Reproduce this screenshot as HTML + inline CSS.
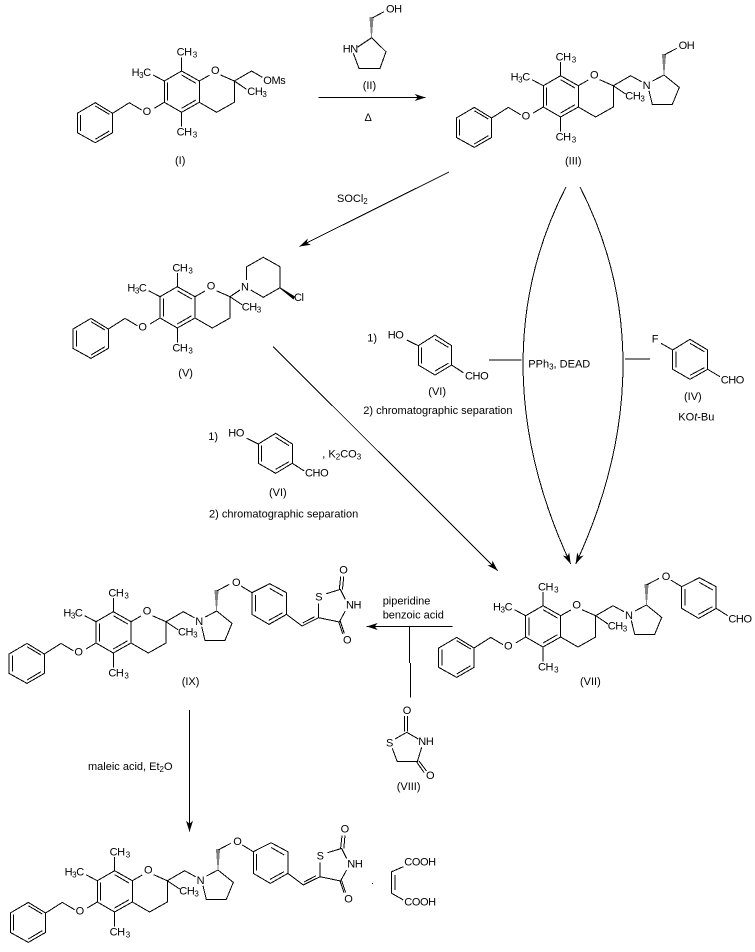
<!DOCTYPE html>
<html><head><meta charset="utf-8"><title>Reaction scheme</title>
<style>
html,body{margin:0;padding:0;background:#fff}
svg{display:block}
text{font-family:"Liberation Sans",Arial,sans-serif;font-size:11px;fill:#000}
.a text,text.a{letter-spacing:-.4px}
.s{font-size:8px}
.b{fill:none;stroke:#000;stroke-width:1;shape-rendering:crispEdges}
</style></head><body>
<svg xmlns="http://www.w3.org/2000/svg" width="755" height="952" viewBox="0 0 755 952">
<defs>
<marker id="ah" viewBox="-12 -5 13 10" refX="0" refY="0" markerWidth="13" markerHeight="10" markerUnits="userSpaceOnUse" orient="auto"><path d="M0 0L-11 -3.5L-8 0L-11 3.5Z" fill="#000"/></marker>
<path id="hash" class="b" d="M85.2 -12.5H86.2M85.2 -14.5H86.2M84.7 -16.5H86.7M84.7 -18.5H86.7M84.7 -20.5H86.7M84.2 -22.5H87.2M84.2 -24.5H87.2M84.2 -26.5H87.2M83.7 -28.5H87.7M83.7 -30.5H87.7"/>
<path id="core" class="b" d="M-122 32.3L-104 21.7L-86.7 32.3V51.7L-104 61.7L-122 51.7ZM-118.7 34V50M-104 25L-90 33.3M-104 58.3L-90 50M-86.7 32.3L-70 21.7L-57.7 29M-45 27.3L-35 21.3M-35 0L-17.7 -10L0 0V21.3L-17.7 31.3L-35 21.3ZM-31.7 1.7V19.7M-17.7 -6L-3.3 2.3M-17.7 27.3L-3.3 19M-17.7 -10V-23.7M-17.7 31.3V45.7M-35 0L-46.3 -6M0 0L10 -5.7M21.3 -6L35 0V21.3L17.3 31.3L0 21.3M35 0L47.3 8.3"/>
<g id="pyr"><path class="b" d="M35 0L52.3 -10L63.3 -4M70.7 5L74 18.7H94L101 1.7L85.7 -10.7L74.3 -4.7M85.7 -30.7L98.3 -37.3"/><use href="#hash"/></g>
<path id="oar" class="b" d="M110 -35.7L121 -29M121 -29L138.7 -38L155.5 -29V-7.3L138 2.7L121 -7.3ZM124.3 -26.7V-10M138.7 -33.3L152 -25.7M137.7 -1.3L151.7 -9"/>
<path id="tzd" class="b" d="M155.5 -7.3L171 4.3L187.7 -4M171.7 1.3L183.7 -5M187.7 -4V-18M195.3 -28L209.3 -32.3L214.3 -22.3M214.3 -10.7L208.3 .3L187.7 -4M208.3 -32.3L209.7 -45M211.5 -32.3L212.7 -45M207.7 .3L211.7 12M209.3 -.3L213.3 11.7"/>
</defs>

<!-- I -->
<g class="a" transform="translate(199.3 81)"><use href="#core"/>
<text x="-22.7" y="-25.3">CH<tspan class="s" dy="2" dx="1">3</tspan></text><text x="-67.7" y="-5">H<tspan class="s" dy="2">3</tspan><tspan dy="-2">C</tspan></text><text x="-22.7" y="54.7">CH<tspan class="s" dy="2" dx="1">3</tspan></text><text x="48" y="14">CH<tspan class="s" dy="2">3</tspan></text><text x="11.7" y="-7">O</text><text x="-56.7" y="34">O</text>
<path class="b" d="M35 0L52.3 -10L63 -3.7"/><text x="64" y="3">OMs</text></g>
<text x="175" y="164">(I)</text>

<!-- II -->
<path class="b" d="M357.3 47.3L371.7 37.7L386 51.7L380 68.3H359L353.3 53.3M371.7 18.3L384 11.7"/>
<g transform="translate(286 48.4)"><use href="#hash"/></g>
<g class="a"><text x="342.7" y="52.7">HN</text><text x="386" y="12.3">OH</text></g>
<text x="362.7" y="89">(II)</text>
<path class="b" d="M318.3 97.5H425.7" marker-end="url(#ah)"/>
<text x="364.5" y="121">Δ</text>

<!-- III -->
<g class="a" transform="translate(578.3 85.7)"><use href="#core"/><use href="#pyr"/>
<text x="-22.7" y="-25.3">CH<tspan class="s" dy="2" dx="1">3</tspan></text><text x="-67.7" y="-5">H<tspan class="s" dy="2">3</tspan><tspan dy="-2">C</tspan></text><text x="-22.7" y="54.7">CH<tspan class="s" dy="2" dx="1">3</tspan></text><text x="47" y="14">CH<tspan class="s" dy="2">3</tspan></text><text x="11.7" y="-7">O</text><text x="-56.7" y="34">O</text>
<text x="64.3" y="3.3">N</text><text x="100.3" y="-36.7">OH</text></g>
<text x="565" y="164.3">(III)</text>

<!-- arrows top -->
<path class="b" d="M449 172L299.5 246.5" marker-end="url(#ah)"/>
<text x="337" y="202">SOCl<tspan class="s" dy="2">2</tspan></text>
<path class="b" d="M566 187C508 300 508 430 570.7 564" marker-end="url(#ah)"/>
<path class="b" d="M580 187C638 300 638 430 575.7 564" marker-end="url(#ah)"/>

<!-- V -->
<g class="a" transform="translate(195 296.7)"><use href="#core"/>
<text x="-22.7" y="-25.3">CH<tspan class="s" dy="2" dx="1">3</tspan></text><text x="-67.7" y="-5">H<tspan class="s" dy="2">3</tspan><tspan dy="-2">C</tspan></text><text x="-22.7" y="54.7">CH<tspan class="s" dy="2" dx="1">3</tspan></text><text x="46.7" y="14">CH<tspan class="s" dy="2">3</tspan></text><text x="11.7" y="-7">O</text><text x="-56.7" y="34">O</text></g>
<path class="b" d="M230 296.7L240 290M246.7 280V266.7L263.3 257.3L280 266.7V287.7L263.3 297.3L250.7 290"/>
<path d="M280 287.2L295 296.5L293.5 299.5L280 288.5Z" fill="#000"/>
<g class="a"><text x="241" y="290.7">N</text><text x="294" y="301">Cl</text></g>
<text x="178.3" y="376.7">(V)</text>

<!-- VI + right side -->
<g class="a"><text x="387.7" y="338.3">HO</text><text x="465" y="379.3">CHO</text><text x="651.7" y="342.7">F</text><text x="720.7" y="383.3">CHO</text><text x="228.3" y="436.7">HO</text><text x="305" y="476.7">CHO</text></g>
<text x="367.3" y="341.7">1)</text>
<path class="b" d="M406.7 340L418.3 345.7L435 335L451.7 345.7V365L435 375L418.3 365V345.7M421.7 347.3V363.3M435 339.3L448.3 347.3M435 371L448.3 363.3M451.7 365L463.3 372.7"/>
<text x="428.3" y="395">(VI)</text>
<text x="363.3" y="414">2) chromatographic separation</text>
<path class="b" d="M489 360H521.7M625 359H650"/>
<text x="528.3" y="367.3">PPh<tspan class="s" dy="2">3</tspan><tspan dy="-2">, DEAD</tspan></text>
<path class="b" d="M661 343.3L672.7 350L690 339.3L707.7 350V369.3L690 379.3L672.7 369.3V350M676 351.7V367.7M690 343.3L704.3 351.7M690 375.3L704.3 367.7M707.7 369.3L720 376.7"/>
<text x="684" y="400">(IV)</text>
<text x="678.3" y="420.7">KO<tspan font-style="italic">t</tspan>-Bu</text>

<!-- VI second -->
<text x="208.3" y="440">1)</text>
<path class="b" d="M246.7 438.3L258.3 444L275.7 433.3L292.3 444V463.3L275.7 473.3L258.3 463.3V444M261.7 445.7V461.7M275.7 437.3L289 445.7M275.7 469.3L289 461.7M292.3 463.3L304.3 471"/>
<text x="322.3" y="457.7">, K<tspan class="s" dy="2">2</tspan><tspan dy="-2">CO</tspan><tspan class="s" dy="2">3</tspan></text>
<text x="269" y="496">(VI)</text>
<text x="209" y="517.7">2) chromatographic separation</text>

<path class="b" d="M273.3 346.7L497.7 570.7" marker-end="url(#ah)"/>

<!-- VII -->
<g class="a" transform="translate(560.7 615.7)"><use href="#core"/><use href="#pyr"/><use href="#oar"/>
<path class="b" d="M155.5 -7.3L167 0"/>
<text x="-22.7" y="-25.3">CH<tspan class="s" dy="2" dx="1">3</tspan></text><text x="-67.7" y="-5">H<tspan class="s" dy="2">3</tspan><tspan dy="-2">C</tspan></text><text x="-22.7" y="54.7">CH<tspan class="s" dy="2" dx="1">3</tspan></text><text x="47" y="14">CH<tspan class="s" dy="2">3</tspan></text><text x="11.7" y="-7">O</text><text x="-56.7" y="34">O</text>
<text x="64.3" y="3.3">N</text><text x="101" y="-35.7">O</text><text x="167.7" y="7">CHO</text></g>
<text x="580" y="685">(VII)</text>

<!-- VII to IX arrow -->
<path class="b" d="M452.7 626.5H366.7" marker-end="url(#ah)"/>
<path class="b" d="M409.5 626.5V663M410.5 663V697.7"/>
<text x="382.7" y="604.7">piperidine</text>
<text x="382.7" y="618.3">benzoic acid</text>

<!-- VIII -->
<path class="b" d="M404.5 716V731.7M407.5 716V731.7M406.7 732.3L395 739M392.3 748.3L397.3 761.7H417.3L421.7 747.3M406.7 732.3L418.3 739M416.5 761.7L424 772.5M419 761L426.5 771"/>
<g class="a"><text x="402.7" y="714">O</text><text x="386" y="746.7">S</text><text x="418.3" y="745">NH</text><text x="426" y="779">O</text></g>
<text x="396.7" y="790">(VIII)</text>

<!-- IX -->
<g class="a" transform="translate(131 621.7)"><use href="#core"/><use href="#pyr"/><use href="#oar"/><use href="#tzd"/>
<text x="-22.7" y="-25.3">CH<tspan class="s" dy="2" dx="1">3</tspan></text><text x="-67.7" y="-5">H<tspan class="s" dy="2">3</tspan><tspan dy="-2">C</tspan></text><text x="-22.7" y="54.7">CH<tspan class="s" dy="2" dx="1">3</tspan></text><text x="47" y="14">CH<tspan class="s" dy="2">3</tspan></text><text x="11.7" y="-7">O</text><text x="-56.7" y="34">O</text>
<text x="64.3" y="3.3">N</text><text x="101" y="-35.7">O</text>
<text x="184.3" y="-21.3">S</text><text x="215" y="-13.3">NH</text><text x="208.3" y="-48.3">O</text><text x="212" y="21.7">O</text></g>
<text x="181.7" y="685">(IX)</text>

<!-- IX to final -->
<path class="b" d="M189.5 710V831.7" marker-end="url(#ah)"/>
<text x="88" y="770">maleic acid, Et<tspan class="s" dy="2">2</tspan><tspan dy="-2">O</tspan></text>

<!-- Final -->
<g class="a" transform="translate(132.3 880.7)"><use href="#core"/><use href="#pyr"/><use href="#oar"/><use href="#tzd"/>
<text x="-22.7" y="-25.3">CH<tspan class="s" dy="2" dx="1">3</tspan></text><text x="-67.7" y="-5">H<tspan class="s" dy="2">3</tspan><tspan dy="-2">C</tspan></text><text x="-22.7" y="54.7">CH<tspan class="s" dy="2" dx="1">3</tspan></text><text x="47" y="14">CH<tspan class="s" dy="2">3</tspan></text><text x="11.7" y="-7">O</text><text x="-56.7" y="34">O</text>
<text x="64.3" y="3.3">N</text><text x="101" y="-35.7">O</text>
<text x="184.3" y="-21.3">S</text><text x="215" y="-13.3">NH</text><text x="208.3" y="-48.3">O</text><text x="212" y="21.7">O</text></g>
<rect x="372" y="883" width="1" height="1" fill="#000"/>
<path class="b" d="M403.3 866.7L391.7 871.7V893.3L403.3 900M395 875V890"/>
<g class="a"><text x="404.3" y="865.7">COOH</text><text x="404.3" y="905.7">COOH</text></g>
</svg>
</body></html>
